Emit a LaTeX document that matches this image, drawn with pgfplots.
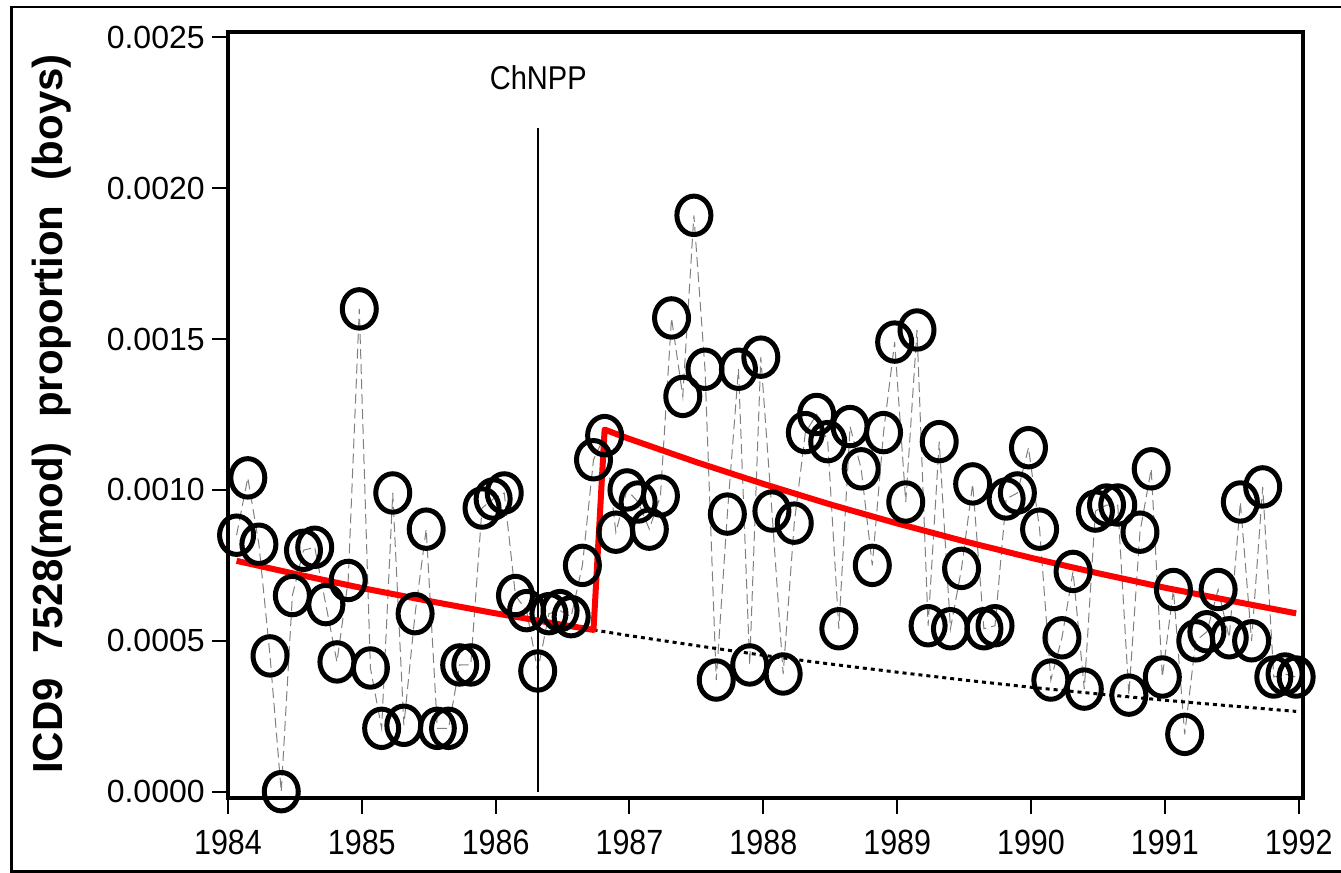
\documentclass[border=0pt]{standalone}
\usepackage{pgfplots}
\usepackage{pgfplotstable}
\pgfplotsset{compat=1.18}
\usepackage{fontspec}
\setmainfont{Liberation Sans}

\pgfplotstableread{
x y
1984.064 0.00085
1984.148 0.00104
1984.231 0.00082
1984.314 0.00045
1984.398 0.00000
1984.481 0.00065
1984.564 0.00080
1984.648 0.00081
1984.731 0.00062
1984.814 0.00043
1984.898 0.00070
1984.981 0.00160
1985.064 0.00041
1985.148 0.00021
1985.231 0.00099
1985.314 0.00022
1985.398 0.00059
1985.481 0.00087
1985.564 0.00021
1985.648 0.00021
1985.731 0.00042
1985.814 0.00042
1985.898 0.00094
1985.981 0.00097
1986.064 0.00099
1986.148 0.00065
1986.231 0.00060
1986.314 0.00040
1986.398 0.00059
1986.481 0.00060
1986.564 0.00058
1986.648 0.00075
1986.731 0.00110
1986.814 0.00118
1986.898 0.00086
1986.981 0.00100
1987.064 0.00096
1987.148 0.00087
1987.231 0.00098
1987.314 0.00157
1987.398 0.00131
1987.481 0.00191
1987.564 0.00140
1987.648 0.00037
1987.731 0.00092
1987.814 0.00140
1987.898 0.00042
1987.981 0.00144
1988.064 0.00093
1988.148 0.00039
1988.231 0.00089
1988.314 0.00119
1988.398 0.00125
1988.481 0.00116
1988.564 0.00054
1988.648 0.00121
1988.731 0.00107
1988.814 0.00075
1988.898 0.00119
1988.981 0.00149
1989.064 0.00096
1989.148 0.00153
1989.231 0.00055
1989.314 0.00116
1989.398 0.00054
1989.481 0.00074
1989.564 0.00102
1989.648 0.00054
1989.731 0.00055
1989.814 0.00097
1989.898 0.00099
1989.981 0.00114
1990.064 0.00087
1990.148 0.00037
1990.231 0.00051
1990.314 0.00073
1990.398 0.00034
1990.481 0.00093
1990.564 0.00095
1990.648 0.00095
1990.731 0.00032
1990.814 0.00086
1990.898 0.00107
1990.981 0.00038
1991.064 0.00067
1991.148 0.00019
1991.231 0.00050
1991.314 0.00053
1991.398 0.00067
1991.481 0.00051
1991.564 0.00096
1991.648 0.00050
1991.731 0.00101
1991.814 0.00038
1991.898 0.00039
1991.981 0.00038
}\obs

\pgfplotstableread{
x y
1984.064 0.000765
1984.5 0.000722
1985.0 0.000675
1985.5 0.000632
1986.0 0.000591
1986.5 0.000553
1986.731 0.000536
1986.814 0.001200
1987.0 0.001169
1987.5 0.001092
1988.0 0.001020
1988.5 0.000952
1989.0 0.000889
1989.5 0.000830
1990.0 0.000775
1990.5 0.000724
1991.0 0.000676
1991.5 0.000632
1991.981 0.000591
}\fit

\pgfplotstableread{
x y
1986.731 0.000536
1987.0 0.000517
1987.5 0.000484
1988.0 0.000452
1988.5 0.000423
1989.0 0.000396
1989.5 0.000370
1990.0 0.000346
1990.5 0.000324
1991.0 0.000303
1991.5 0.000284
1991.981 0.000266
}\cf

\begin{document}
\begin{tikzpicture}
\useasboundingbox (0,0) rectangle (670.5pt,436.5pt);
\draw[line width=1.3pt] (5.6pt,0.7pt) rectangle (690pt,433pt);
\begin{axis}[
  at={(114pt,37.5pt)}, anchor=south west,
  scale only axis, width=537.5pt, height=383.15pt,
  xmin=1984, xmax=1992.032, ymin=-0.0000209, ymax=0.0025186,
  clip=false,
  axis line style={line width=2pt},
  tick style={line width=1pt, black},
  tick align=outside, major tick length=8pt,
  xtick={1984,1985,...,1992},
  ytick={0,0.0005,0.001,0.0015,0.002,0.0025},
  xtick pos=bottom, ytick pos=left,
  minor tick num=0,
  scaled y ticks=false,
  /pgf/number format/assume math mode=true,
  /pgf/number format/1000 sep={},
  xticklabel style={font=\fontsize{17.5}{20}\selectfont, xscale=0.87, inner sep=0pt, yshift=-8pt},
  yticklabel style={/pgf/number format/.cd, fixed, fixed zerofill, precision=4, /tikz/.cd,
     font=\fontsize{16}{19}\selectfont, inner sep=0pt, xshift=-3.5pt},
  ylabel={\bfseries ICD9\hspace{0.6em}7528(mod)\hspace{0.6em}proportion\hspace{0.6em}(boys)},
  ylabel style={font=\fontsize{21}{24}\selectfont, at={(axis description cs:-0.1637,0.501)}, anchor=center},
]
\addplot[gray, line width=0.5pt, dash pattern=on 5pt off 2.5pt] table[x=x,y=y] {\obs};
\addplot[only marks, mark=o, mark size=8.5pt, mark options={yscale=1.13, line width=2.5pt, black}] table[x=x,y=y] {\obs};
\addplot[black, line width=1pt] coordinates {(1986.318,0) (1986.318,0.0022)};
\addplot[black, line width=1.5pt, dash pattern=on 2pt off 2pt] table[x=x,y=y] {\cf};
\addplot[red, line width=3pt, line join=round] table[x=x,y=y] {\fit};
\node[font=\fontsize{16.5}{19}\selectfont, xscale=0.88, inner sep=0pt] at (axis cs:1986.318,0.002366) {ChNPP};
\end{axis}
\end{tikzpicture}
\end{document}
